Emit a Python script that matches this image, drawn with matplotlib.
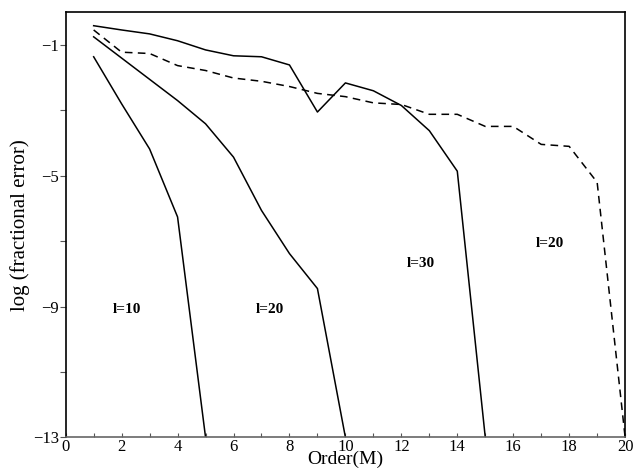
import matplotlib
matplotlib.use("Agg")
import matplotlib.pyplot as plt
from matplotlib.ticker import MultipleLocator, FixedLocator

plt.rcParams['font.family'] = ['Liberation Serif', 'DejaVu Serif']
plt.rcParams['mathtext.fontset'] = 'stix'

m_l10 = [1, 2, 3, 4, 5]
err_l10 = [-1.36, -2.80, -4.18, -6.26, -13.0]

m_l20 = [1, 2, 3, 4, 5, 6, 7, 8, 9, 10]
err_l20 = [-0.75, -1.40, -2.05, -2.70, -3.41, -4.43, -6.06, -7.38, -8.45, -13.0]

m_l30 = [1, 2, 3, 4, 5, 6, 7, 8, 9, 10, 11, 12, 13, 14, 15]
err_l30 = [-0.41, -0.54, -0.66, -0.87, -1.15, -1.33, -1.36, -1.61, -3.05,
           -2.16, -2.40, -2.85, -3.62, -4.86, -13.0]

m_l20d = list(range(1, 21))
err_l20d = [-0.54, -1.22, -1.26, -1.63, -1.78, -2.01, -2.11, -2.27, -2.48, -2.58,
            -2.77, -2.82, -3.12, -3.12, -3.49, -3.49, -4.04, -4.10, -5.20, -13.0]

labels = ['l=10', 'l=20', 'l=30', 'l=20']
label_x = [2.2, 7.3, 12.7, 17.3]
label_y = [-9.1, -9.08, -7.69, -7.06]

fig = plt.figure(figsize=(6.34, 4.68), dpi=100)
ax = fig.add_axes([0.1036, 0.0656, 0.986 - 0.1036, 0.9737 - 0.0656])

lw = 1.1
ax.plot(m_l10, err_l10, color='black', lw=lw)
ax.plot(m_l20, err_l20, color='black', lw=lw)
ax.plot(m_l30, err_l30, color='black', lw=lw)
ax.plot(m_l20d, err_l20d, color='black', lw=lw, linestyle=(0, (5, 3.5)))

for t, x, y in zip(labels, label_x, label_y):
    ax.text(x, y, t, ha='center', va='center', fontsize=11, fontweight='bold')

ax.set_xlim(0, 20)
ax.set_ylim(-13, 0)
ax.xaxis.set_major_locator(MultipleLocator(2))
ax.xaxis.set_minor_locator(MultipleLocator(1))
ax.yaxis.set_major_locator(FixedLocator([-13, -9, -5, -1]))
ax.yaxis.set_minor_locator(FixedLocator([-11, -7, -3]))
ax.set_yticklabels(['\u221213', '\u22129', '\u22125', '\u22121'])

ax.tick_params(axis='x', which='both', direction='in', length=3, width=0.8,
               labelsize=12, pad=1, color='#555555')
ax.tick_params(axis='y', which='both', direction='out', length=4, width=0.8,
               labelsize=12, pad=1, color='#555555')

for s in ax.spines.values():
    s.set_linewidth(1.2)
    s.set_color('black')
ax.spines['bottom'].set_color('#666666')

ax.set_xlabel('Order(M)', fontsize=14, labelpad=-3)
ax.set_ylabel('log (fractional error)', fontsize=15, labelpad=2)

fig.savefig('out.png', dpi=100)
